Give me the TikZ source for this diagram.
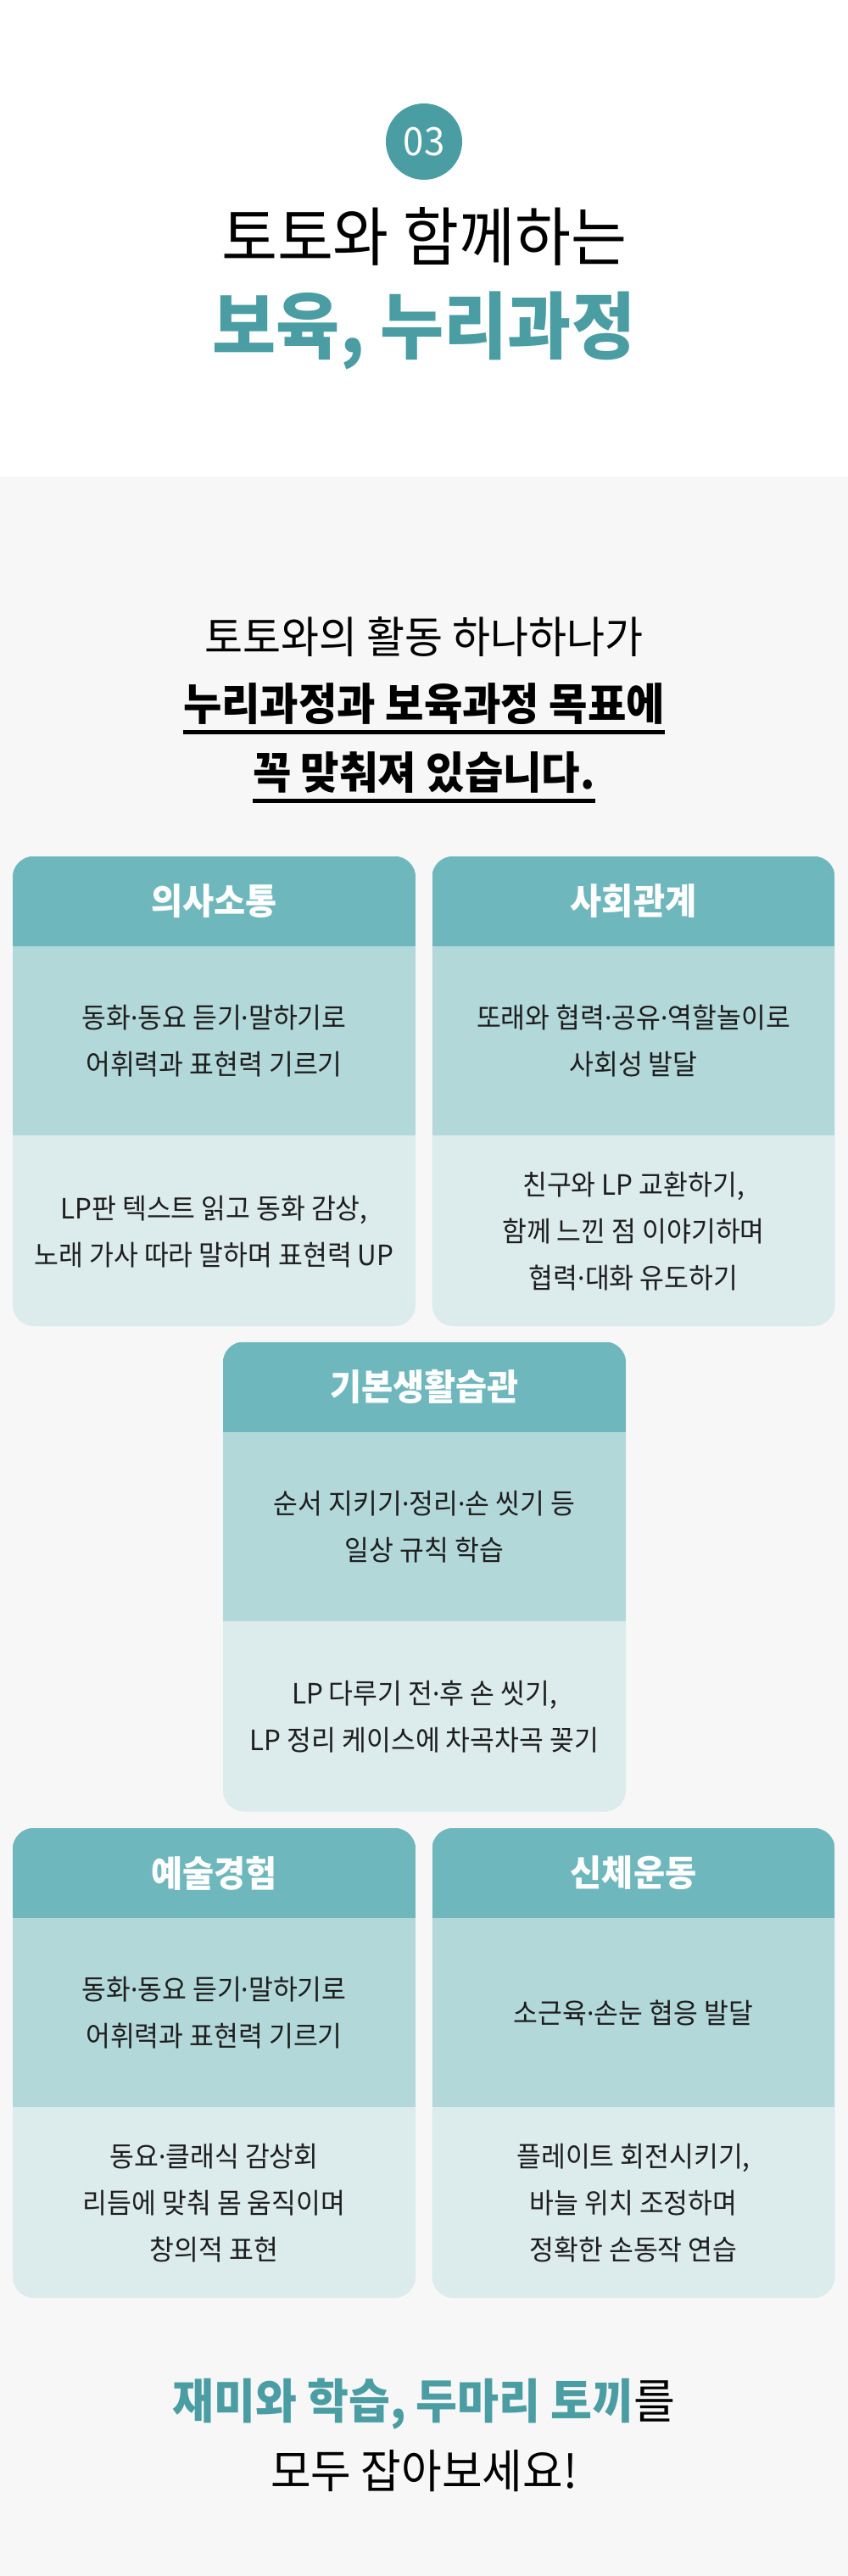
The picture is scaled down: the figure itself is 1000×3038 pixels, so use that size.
\documentclass[tikz,border=0pt]{standalone}
\usepackage{fontspec}
\setmainfont[FakeStretch=0.95]{Noto Sans CJK KR}
\newfontfamily\dotfont[FakeStretch=0.95]{Noto Sans}
\newcommand\md{{\dotfont ·}}
\usetikzlibrary{positioning}
\definecolor{toto}{HTML}{4B9DA4}
\definecolor{headc}{HTML}{6EB7BD}
\definecolor{midc}{HTML}{B3D8DA}
\definecolor{botc}{HTML}{DCEBEC}
\definecolor{paper}{HTML}{F7F7F7}
\definecolor{ink}{HTML}{1E1E1E}

\begin{document}
\begin{tikzpicture}[x=1pt,y=-1pt]
\tikzstyle{cardbox}=[rounded corners=25pt,fill=botc,minimum width=475pt,minimum height=554pt,inner sep=0pt];
\tikzstyle{headbox}=[fill=headc,minimum width=475pt,minimum height=106pt,inner sep=0pt,text=white,font=\bfseries\fontsize{42.5}{42.5}\selectfont];
\tikzstyle{midbox}=[fill=midc,minimum width=475pt,minimum height=223pt,inner sep=0pt,align=center,text=ink,font=\fontsize{33}{55}\selectfont];
\tikzstyle{botbox}=[minimum width=475pt,minimum height=225pt,inner sep=0pt,align=center,text=ink,font=\fontsize{33}{55}\selectfont];
\tikzstyle{ulbold}=[inner xsep=0pt,inner ysep=8.5pt,font=\bfseries\fontsize{52}{52}\selectfont];
\tikzstyle{uline}=[line width=5pt];
\useasboundingbox (0,0) rectangle (1000,3038);
\fill [white] (0,0) rectangle (1000,562);
\fill [paper] (0,562) rectangle (1000,3038);

% heading
\node (num) [circle,fill=toto,minimum size=90pt,inner sep=0pt,text=white,font=\fontsize{46}{46}\selectfont] at (500,167) {03};
\node (t1) [font=\fontsize{75.5}{75.5}\selectfont] at (500,279) {토토와 함께하는};
\node (t2) [text=toto,font=\bfseries\fontsize{86}{86}\selectfont] at (500,390) {보육, 누리과정};

\node (l1) [font=\fontsize{51.5}{51.5}\selectfont] at (500,751) {토토와의 활동 하나하나가};
\node (l2) [ulbold] at (500,830) {누리과정과 보육과정 목표에};
\node (l3) [ulbold] at (500,911) {꼭 맞춰져 있습니다.};
\draw [uline] (l2.south west) -- (l2.south east);
\draw [uline] (l3.south west) -- (l3.south east);

% cards
\node (c1) [cardbox] at (252.5,1287) {};
\begin{scope}
\clip [rounded corners=25pt] (c1.north west) rectangle (c1.south east);
\node (h1) [headbox,below=0pt of c1.north] {의사소통};
\node (m1) [midbox,below=0pt of h1.south] {동화\md 동요 듣기\md 말하기로\\어휘력과 표현력 기르기};
\end{scope}
\node (b1) [botbox,below=0pt of m1.south] {LP판 텍스트 읽고 동화 감상,\\노래 가사 따라 말하며 표현력 UP};

\node (c2) [cardbox] at (747,1287) {};
\begin{scope}
\clip [rounded corners=25pt] (c2.north west) rectangle (c2.south east);
\node (h2) [headbox,below=0pt of c2.north] {사회관계};
\node (m2) [midbox,below=0pt of h2.south] {또래와 협력\md 공유\md 역할놀이로\\사회성 발달};
\end{scope}
\node (b2) [botbox,below=0pt of m2.south] {친구와 LP 교환하기,\\함께 느낀 점 이야기하며\\협력\md 대화 유도하기};

\node (c3) [cardbox] at (500.5,1859.5) {};
\begin{scope}
\clip [rounded corners=25pt] (c3.north west) rectangle (c3.south east);
\node (h3) [headbox,below=0pt of c3.north] {기본생활습관};
\node (m3) [midbox,below=0pt of h3.south] {순서 지키기\md 정리\md 손 씻기 등\\일상 규칙 학습};
\end{scope}
\node (b3) [botbox,below=0pt of m3.south] {LP 다루기 전\md 후 손 씻기,\\LP 정리 케이스에 차곡차곡 꽂기};

\node (c4) [cardbox] at (252.5,2433) {};
\begin{scope}
\clip [rounded corners=25pt] (c4.north west) rectangle (c4.south east);
\node (h4) [headbox,below=0pt of c4.north] {예술경험};
\node (m4) [midbox,below=0pt of h4.south] {동화\md 동요 듣기\md 말하기로\\어휘력과 표현력 기르기};
\end{scope}
\node (b4) [botbox,below=0pt of m4.south] {동요\md 클래식 감상회\\리듬에 맞춰 몸 움직이며\\창의적 표현};

\node (c5) [cardbox] at (747,2433) {};
\begin{scope}
\clip [rounded corners=25pt] (c5.north west) rectangle (c5.south east);
\node (h5) [headbox,below=0pt of c5.north] {신체운동};
\node (m5) [midbox,below=0pt of h5.south] {소근육\md 손눈 협응 발달};
\end{scope}
\node (b5) [botbox,below=0pt of m5.south] {플레이트 회전시키기,\\바늘 위치 조정하며\\정확한 손동작 연습};

% closing
\node (e1) [font=\fontsize{56}{56}\selectfont] at (500,2835) {\textcolor{toto}{\bfseries 재미와 학습, 두마리 토끼}를};
\node (e2) [font=\fontsize{54.5}{54.5}\selectfont] at (500,2914) {모두 잡아보세요!};
\end{tikzpicture}
\end{document}
